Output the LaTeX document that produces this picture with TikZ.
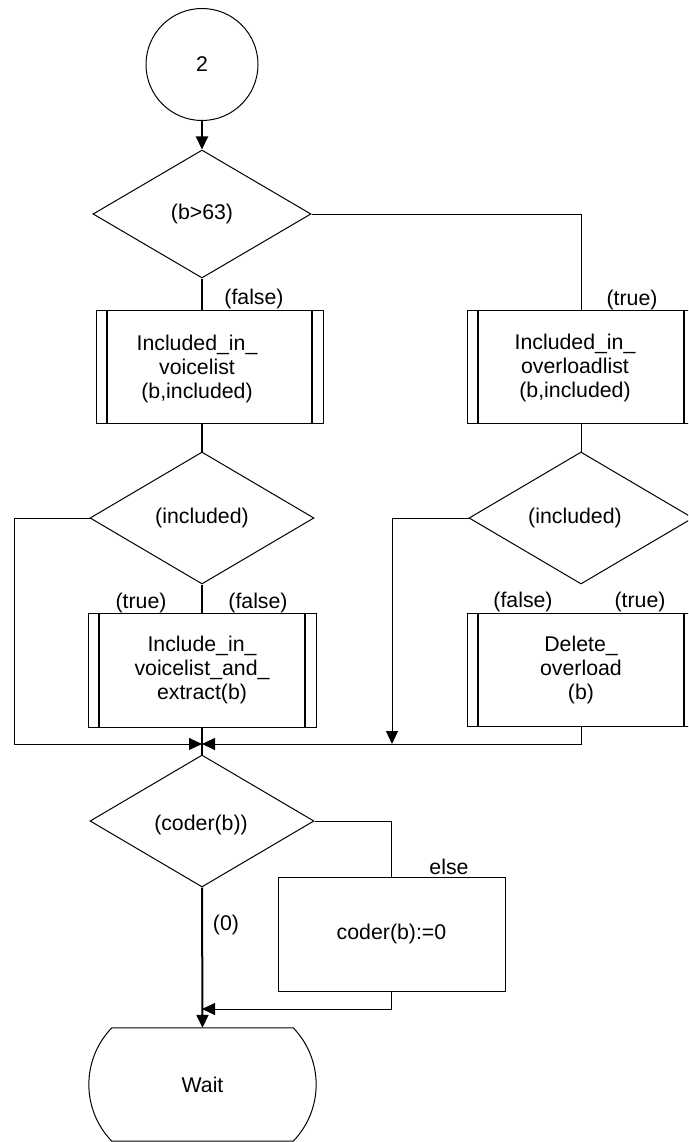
\documentclass[tikz,border=0pt]{standalone}
\usepackage{fontspec}
\setmainfont{Liberation Sans}
\usetikzlibrary{shapes.geometric,arrows.meta}
\begin{document}
\begin{tikzpicture}[x=1pt,y=-1pt,
  every node/.style={font=\fontsize{21.3}{24}\selectfont, inner sep=0pt, align=center},
  ln/.style={line width=1pt},
  tk/.style={line width=2pt},
  arr/.style={-{Triangle[length=13pt,width=12pt]}},
  dia/.style={diamond, draw, line width=1pt, minimum width=224pt, minimum height=132pt},
  sub/.style={draw, line width=1pt, rectangle, minimum width=#1, minimum height=113pt,
    path picture={
      \draw[line width=2pt] ([xshift=11pt]path picture bounding box.north west) -- ([xshift=11pt]path picture bounding box.south west);
      \draw[line width=2pt] ([xshift=-11pt]path picture bounding box.north east) -- ([xshift=-11pt]path picture bounding box.south east);}},
  box/.style={draw, line width=1pt, rectangle, minimum width=227pt, minimum height=114pt}
]
\clip (0,0) rectangle (688,1142);
% nodes
\node[circle, draw, line width=1pt, minimum size=112pt] (c2) at (202,64.5) {2};
\node[dia, minimum width=218pt, minimum height=128pt] (d1) at (202,214) {(b>63)};
\node[sub=227pt] (b1) at (209.5,366.5) {};
\node (b1t) at (197,369) {Included\_in\_\\voicelist\\(b,included)};
\node[sub=228pt] (b2) at (581,366.5) {};
\node (b2t) at (575,368) {Included\_in\_\\overloadlist\\(b,included)};
\node[dia] (d2) at (202,518) {(included)};
\node[dia] (d4) at (581,518) {};
\node (d4t) at (575,518) {(included)};
\node[sub=228pt, minimum height=114pt] (b3) at (202,670) {Include\_in\_\\voicelist\_and\_\\extract(b)};
\node[sub=228pt] (b4) at (581,669.5) {Delete\_\\overload\\(b)};
\coordinate (m) at (202,744);
\node[dia] (d3) at (202,821) {};
\node (d3t) at (201,825) {(coder(b))};
\node[box] (b5) at (391.5,934) {coder(b):=0};
\node[minimum width=181pt, minimum height=113pt] (wait) at (202.5,1084.5) {Wait};
% labels
\node (lf1) at (254,299) {(false)};
\node (lt2) at (632,300) {(true)};
\node (lt3) at (141,603) {(true)};
\node (lf3) at (258,603) {(false)};
\node (lf4) at (523,602) {(false)};
\node (lt4) at (640,602) {(true)};
\node (lelse) at (449,867) {else};
\node (l0) at (226,925) {(0)};
% wait shape
\draw[ln] (wait.north west) -- (wait.north east)
  .. controls ([shift={(30.6pt,25pt)}]wait.east) and ([shift={(30.6pt,-25pt)}]wait.east) .. (wait.south east)
  -- (wait.south west)
  .. controls ([shift={(-30.6pt,-25pt)}]wait.west) and ([shift={(-30.6pt,25pt)}]wait.west) .. (wait.north west);
% connectors
\draw[tk, arr] (c2.south) -- (d1.north);
\draw[tk] (d1.south) -- (d1.south |- b1.north);
\draw[ln] (d1.east) -| (b2.north);
\draw[tk] (d1.south |- b1.south) -- (d2.north);
\draw[ln] (b2.south) -- (d4.north);
\draw[tk] (d2.south) -- (b3.north);
\coordinate (lx) at (14,518);
\draw[ln, arr] (d2.west) -- (lx) |- (m);
\draw[tk] (b3.south) -- (d3.north);
\coordinate (rx) at (392,518);
\coordinate (rxb) at (392,744);
\draw[ln, arr] (d4.west) -- (rx) -- (rxb);
\draw[ln, arr] (b4.south) |- (m);
\draw[ln] (d3.east) -| (b5.north);
\draw[tk, arr] (d3.south) -- (wait.north);
\coordinate (j) at (202,1009);
\draw[ln, arr] (b5.south) |- (j);
\end{tikzpicture}
\end{document}
